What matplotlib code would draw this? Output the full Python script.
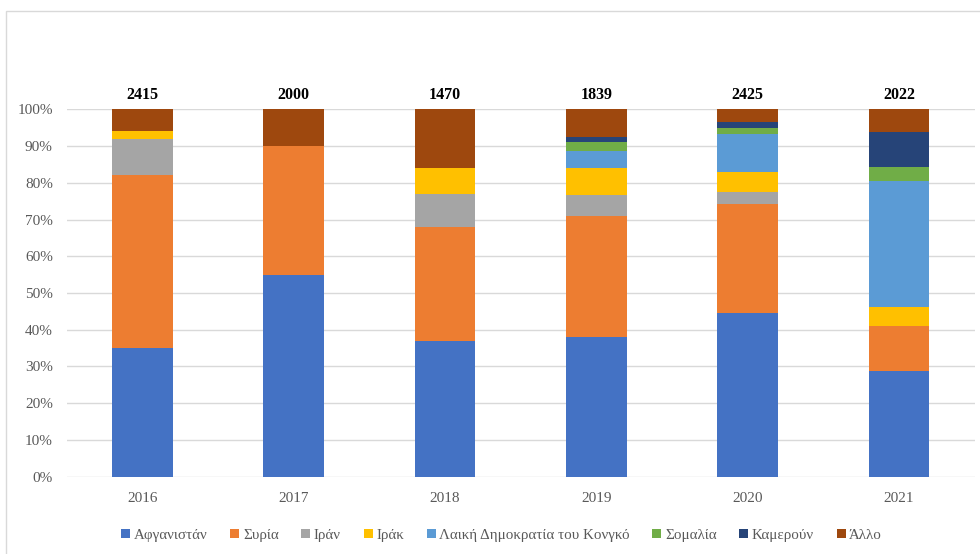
import matplotlib
matplotlib.use("Agg")
import numpy as np
from matplotlib import pyplot as plt
from matplotlib.patches import Rectangle

years = ["2016", "2017", "2018", "2019", "2020", "2021"]
totals = [2415, 2000, 1470, 1839, 2425, 2022]

names = ["Αφγανιστάν", "Συρία", "Ιράν", "Ιράκ",
         "Λαική Δημοκρατία του Κονγκό", "Σομαλία", "Καμερούν", "Άλλο"]

# shares in %
afghanistan = [35.0, 55.0, 37.0, 38.0, 44.6, 28.9]
syria = [47.0, 35.0, 31.0, 33.0, 29.6, 12.0]
iran = [10.0, 0.0, 9.0, 5.7, 3.2, 0.0]
iraq = [2.0, 0.0, 7.0, 7.3, 5.5, 5.2]
congo = [0.0, 0.0, 0.0, 4.7, 10.3, 34.3]
somalia = [0.0, 0.0, 0.0, 2.3, 1.8, 4.0]
cameroon = [0.0, 0.0, 0.0, 1.4, 1.5, 9.5]
other = [6.0, 10.0, 16.0, 7.6, 3.5, 6.1]

colors = ["#4472C4", "#ED7D31", "#A5A5A5", "#FFC000",
          "#5B9BD5", "#70AD47", "#264478", "#9E480E"]

series = [afghanistan, syria, iran, iraq, congo, somalia, cameroon, other]

plt.rcParams["font.family"] = ["Liberation Serif", "DejaVu Serif"]

fig = plt.figure(figsize=(9.8, 5.54), dpi=100)
ax = fig.add_axes([0.068, 0.1395, 0.9266, 0.6632])

x = np.arange(len(years))
bottom = np.zeros(len(years))
for vals, name, c in zip(series, names, colors):
    v = np.array(vals)
    ax.bar(x, v, 0.4, bottom=bottom, color=c, label=name, zorder=3)
    bottom += v

for xi, t in zip(x, totals):
    ax.text(xi, 101.6, str(t), ha="center", va="bottom",
            fontsize=11.5, fontweight="bold", color="black")

ax.set_xlim(-0.5, len(years) - 0.5)
ax.set_ylim(0, 100)
ax.set_yticks(range(0, 101, 10))
ax.set_yticklabels([f"{v}%" for v in range(0, 101, 10)])
ax.set_xticks(x)
ax.set_xticklabels(years)
ax.tick_params(axis="both", length=0, labelsize=11, colors="#595959")
ax.tick_params(axis="x", pad=11)
ax.tick_params(axis="y", pad=10)
ax.grid(axis="y", color="#d9d9d9", linewidth=1, zorder=0)
for s in ax.spines.values():
    s.set_visible(False)

ax.legend(loc="center", bbox_to_anchor=(0.512, 0.034),
          bbox_transform=fig.transFigure, ncol=8, frameon=False,
          fontsize=10.8, handlelength=0.6, handleheight=0.6,
          handletextpad=0.25, columnspacing=1.5, labelcolor="#595959")

# outer chart frame
fig.patches.append(Rectangle((6 / 980, -0.1), 1.2, 1 - 11 / 554 + 0.1,
                             transform=fig.transFigure, fill=False,
                             edgecolor="#d9d9d9", linewidth=1))

fig.savefig("out.png", dpi=100)
